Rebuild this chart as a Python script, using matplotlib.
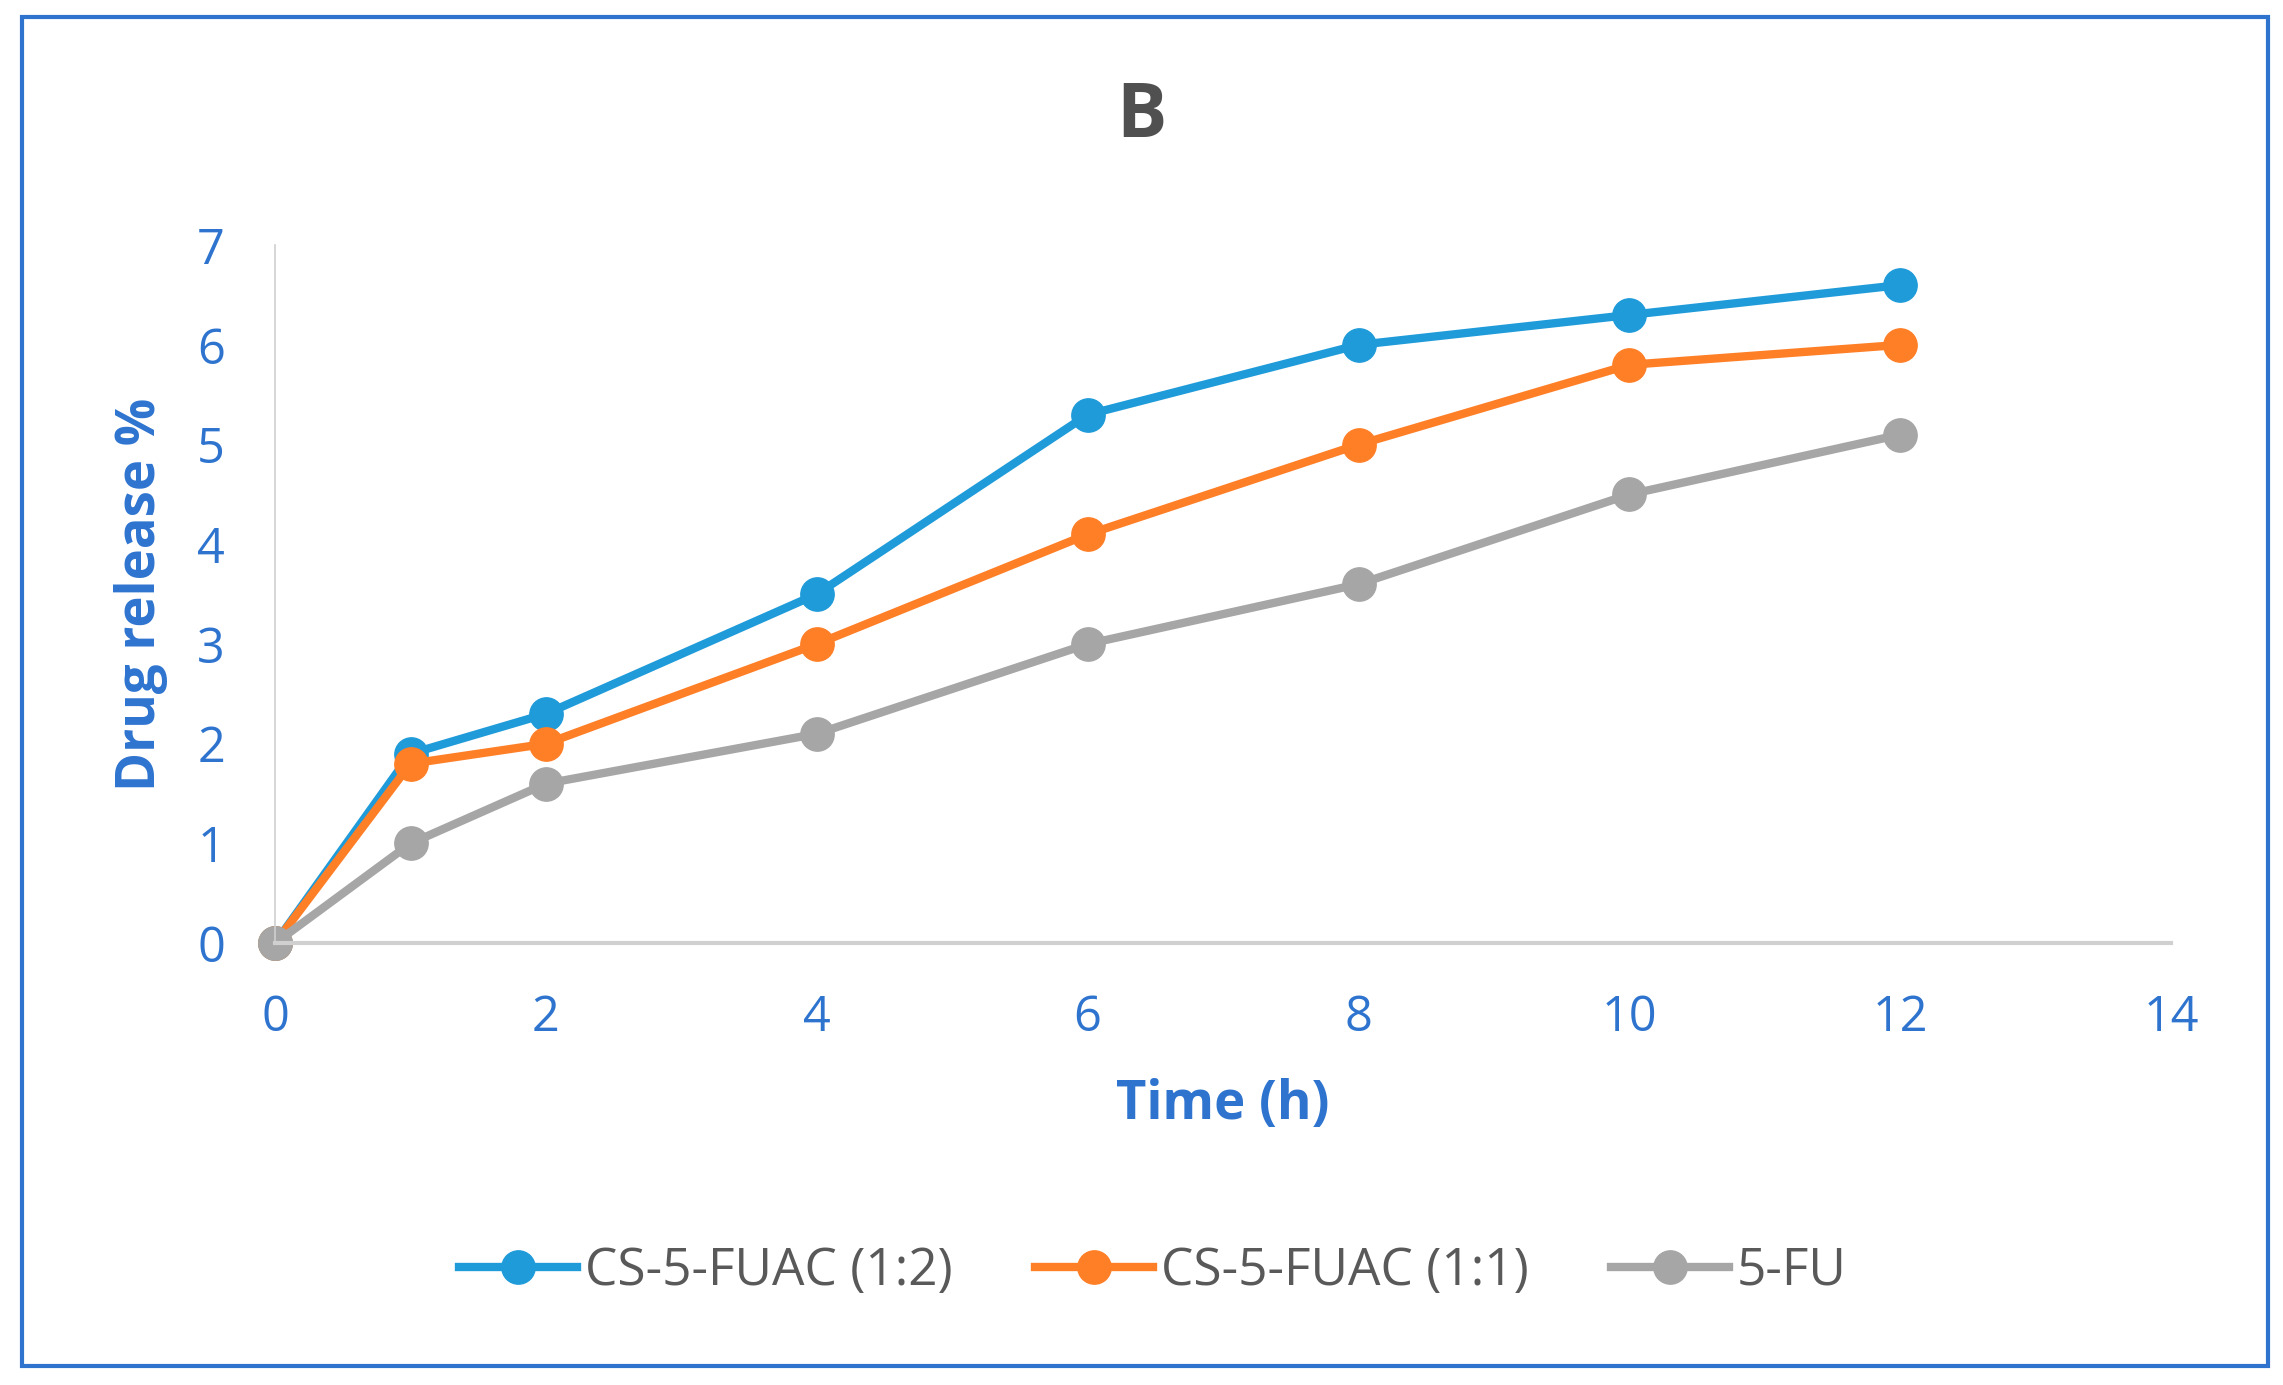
import matplotlib.pyplot as plt
from matplotlib.patches import Rectangle

# drug release data
time_h = [0, 1, 2, 4, 6, 8, 10, 12]
release_12 = [0, 1.9, 2.3, 3.5, 5.3, 6.0, 6.3, 6.6]
release_11 = [0, 1.8, 2.0, 3.0, 4.1, 5.0, 5.8, 6.0]
release_fu = [0, 1.0, 1.6, 2.1, 3.0, 3.6, 4.5, 5.1]

series_labels = ["CS-5-FUAC (1:2)", "CS-5-FUAC (1:1)", "5-FU"]
series_colors = ["#1F9BD9", "#FF7F27", "#A6A6A6"]
x_ticks = [0, 2, 4, 6, 8, 10, 12, 14]
y_ticks = [0, 1, 2, 3, 4, 5, 6, 7]

plt.rcParams["font.family"] = ["Open Sans", "DejaVu Sans"]
label_blue = "#2E74CF"

fig = plt.figure(figsize=(22.83, 13.85), dpi=100)
ax = fig.add_axes([0.1205, 0.319, 0.8305, 0.504])

for vals, lab, col in zip([release_12, release_11, release_fu], series_labels, series_colors):
    ax.plot(time_h, vals, color=col, linewidth=6, marker="o", markersize=24,
            label=lab, clip_on=False)

ax.set_xlim(0, 14)
ax.set_ylim(0, 7)
ax.set_xticks(x_ticks)
ax.set_yticks(y_ticks)
ax.tick_params(length=0, labelsize=35, colors=label_blue, pad=36)

for side in ["top", "right"]:
    ax.spines[side].set_visible(False)
ax.spines["left"].set_color("#D0D0D0")
ax.spines["left"].set_linewidth(1.2)
ax.spines["bottom"].set_color("#D0D0D0")
ax.spines["bottom"].set_linewidth(3)

ax.set_xlabel("Time (h)", fontsize=38, fontweight="bold", color=label_blue, va="center")
ax.xaxis.set_label_coords(0.5, -0.232)
ax.set_ylabel("Drug release %", fontsize=38, fontweight="bold", color=label_blue, va="center")
ax.yaxis.set_label_coords(-0.0707, 0.5)

fig.text(0.5, 0.915, "B", fontsize=54, fontweight="bold", color="#505050",
         ha="center", va="center")

ax.legend(loc="center", bbox_to_anchor=(0.505, 0.082), bbox_transform=fig.transFigure,
          ncol=3, frameon=False, fontsize=37, labelcolor="#595959",
          handlelength=2.3, handletextpad=0.15, columnspacing=1.6)

fig.patches.append(Rectangle((0.0096, 0.0137), 0.9838, 0.974, transform=fig.transFigure,
                             fill=False, edgecolor="#2E74CF", linewidth=3))

fig.savefig("out.png", dpi=100)
